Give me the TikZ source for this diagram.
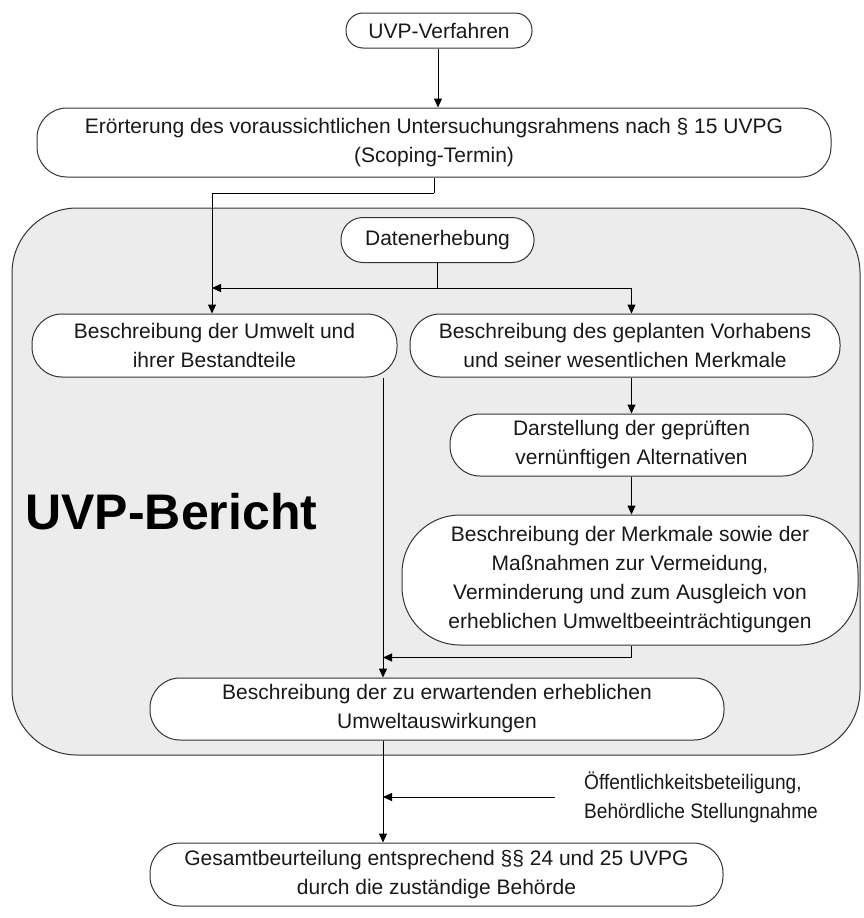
\documentclass[tikz,border=0pt]{standalone}
\usepackage{fontspec}
\setmainfont{Liberation Sans}
\usetikzlibrary{arrows.meta,calc}
\definecolor{grayfill}{HTML}{ECECEC}
\definecolor{edge}{HTML}{333333}
\tikzset{
  stbox/.style={draw=edge, line width=1pt, fill=white, align=center, inner sep=0pt,
    font=\fontsize{21}{29}\selectfont, text=black!90},
  arr/.style={-{Triangle[length=9pt,width=8pt]}, line width=1pt, draw=black},
  ln/.style={line width=1pt, draw=black}
}
\begin{document}
\begin{tikzpicture}[x=1pt,y=-1pt]
\useasboundingbox (0,0) rectangle (864,918);
% UVP-Bericht container
\draw[draw=edge, line width=1pt, fill=grayfill, rounded corners=65pt] (12,208) rectangle (860,755);
\node[anchor=west, font=\fontsize{50}{56}\selectfont\bfseries] (bericht) at (22,512) {UVP-Bericht};

\node[stbox, minimum width=186pt, minimum height=35pt, rounded corners=17pt] (n1) at (439,30.5) {UVP-Verfahren};
\node[stbox, minimum width=794pt, minimum height=69pt, rounded corners=30pt] (n2) at (434,142.5)
  {Erörterung des voraussichtlichen Untersuchungsrahmens nach § 15 UVPG\\(Scoping-Termin)};
\node[stbox, minimum width=193pt, minimum height=45pt, rounded corners=22pt] (n3) at (437.5,240) {Datenerhebung};
\node[stbox, minimum width=365pt, minimum height=63pt, rounded corners=30pt] (n4) at (214.5,345.5)
  {Beschreibung der Umwelt und\\ihrer Bestandteile};
\node[stbox, minimum width=430pt, minimum height=63pt, rounded corners=30pt] (n5) at (625,345.5)
  {Beschreibung des geplanten Vorhabens\\und seiner wesentlichen Merkmale};
\node[stbox, minimum width=363pt, minimum height=62pt, rounded corners=30pt] (n6) at (631.5,445)
  {Darstellung der geprüften\\vernünftigen Alternativen};
\node[stbox, minimum width=456pt, minimum height=130pt, rounded corners=58pt] (n7) at (630,580)
  {Beschreibung der Merkmale sowie der\\Maßnahmen zur Vermeidung,\\Verminderung und zum Ausgleich von\\erheblichen Umweltbeeinträchtigungen};
\node[stbox, minimum width=574pt, minimum height=62pt, rounded corners=30pt] (n8) at (437,709)
  {Beschreibung der zu erwartenden erheblichen\\Umweltauswirkungen};
\node[stbox, minimum width=573pt, minimum height=63pt, rounded corners=30pt] (n9) at (436.5,874.5)
  {Gesamtbeurteilung entsprechend §§ 24 und 25 UVPG\\durch die zuständige Behörde};
\node[anchor=west, inner sep=0pt, font=\fontsize{21}{29}\selectfont, text=black!90] (lbl) at (584,798)
  {\scalebox{0.91}[1]{\begin{tabular}{@{}l@{}}Öffentlichkeitsbeteiligung,\\Behördliche Stellungnahme\end{tabular}}};

% connectors
\coordinate (cx) at (383,0);
\coordinate (j1) at (434,193);
\coordinate (j2) at (437.5,288);
\draw[arr] (n1.south -| 438,0) -- (n2.north -| 438,0);
\draw[ln] (n2.south) -- (j1);
\draw[arr] (j1) -| (n4.north -| 212,0);
\draw[ln] (n3.south) -- (j2);
\draw[arr] (j2) -- (j2 -| 212,0);
\draw[arr] (j2) -| (n5.north -| n6.north);
\draw[arr] (n5.south -| n6.north) -- (n6.north);
\draw[arr] (n6.south) -- (n7.north -| n6.south);
\coordinate (j3) at ($(n7.south -| n6.south)+(0,12)$);
\draw[ln] (n7.south -| n6.south) -- (j3);
\draw[arr] (j3) -- (j3 -| cx);
\draw[arr] (n4.south -| cx) -- (n8.north -| cx);
\draw[arr] (n8.south -| cx) -- (n9.north -| cx);
\draw[arr] (555,797) -- (cx |- 0,797);
\end{tikzpicture}
\end{document}
